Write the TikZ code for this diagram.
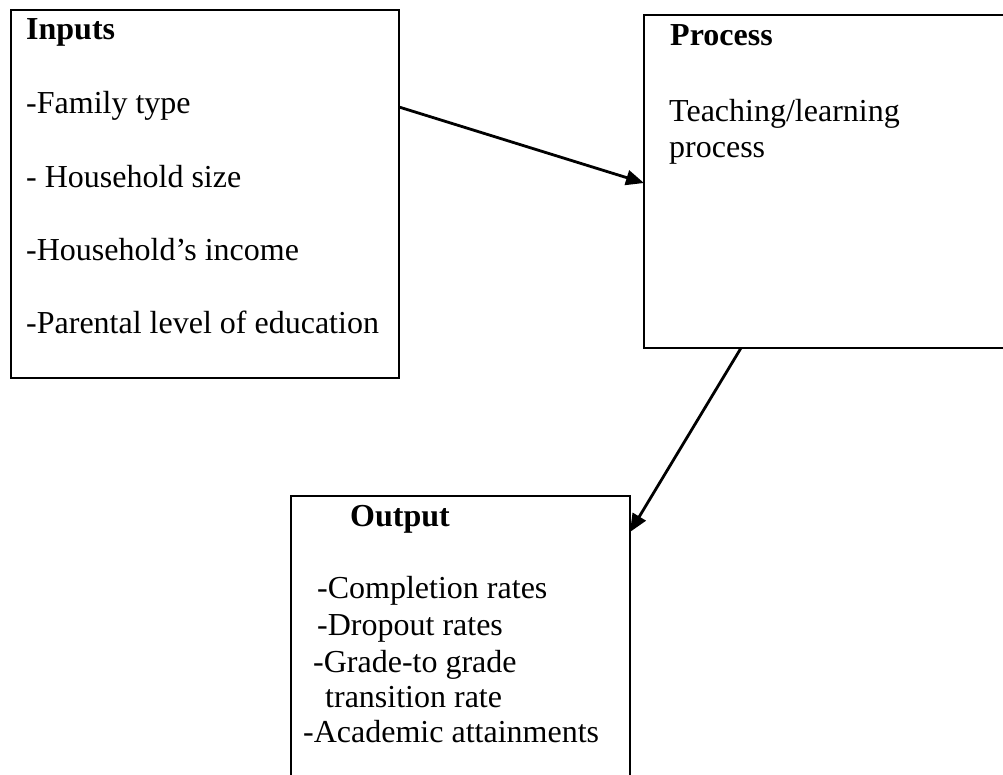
\documentclass[tikz,border=0pt]{standalone}
\usepackage{fontspec}
\setmainfont{Liberation Serif}
\usetikzlibrary{arrows.meta}
\begin{document}
\begin{tikzpicture}[x=1pt,y=-1pt,
  box/.style={draw=black,line width=2.7pt,inner sep=0pt,outer sep=0pt,rectangle},
  txt/.style={anchor=base west,inner sep=0pt,font=\fontsize{32}{38}\selectfont},
  head/.style={txt,font=\fontsize{32}{38}\selectfont\bfseries},
  conn/.style={line width=2.8pt,-{Triangle[length=18pt,width=15pt]}}]
\useasboundingbox (0,0) rectangle (1003,774);
% boxes
\node[box,minimum width=388pt,minimum height=368pt] (inputs) at (205,194) {};
\node[box,minimum width=366pt,minimum height=333pt] (process) at (827,181.5) {};
\node[box,minimum width=339pt,minimum height=300pt] (output) at (460.5,646) {};
% Inputs text
\node[head] (tin) at (26,39) {Inputs};
\node[txt] (t1) at (26,113) {-Family type};
\node[txt] (t2) at (26,187) {- Household size};
\node[txt] (t3) at (26,260) {-Household’s income};
\node[txt] (t4) at (26,333) {-Parental level of education};
% Process text
\node[head] (tpr) at (670,45) {Process};
\node[txt] (p1) at (669,121) {Teaching/learning};
\node[txt] (p2) at (669,157) {process};
% Output text
\node[head] (tout) at (350,526) {Output};
\node[txt] (o1) at (317,598) {-Completion rates};
\node[txt] (o2) at (317,635) {-Dropout rates};
\node[txt] (o3) at (313,672) {-Grade-to grade};
\node[txt] (o4) at (325,707) {transition rate};
\node[txt] (o5) at (303,742) {-Academic attainments};
% connectors
\coordinate (a1s) at ([yshift=-97pt]inputs.north east);
\coordinate (a1e) at ([yshift=-168pt]process.north west);
\coordinate (a2s) at ([xshift=97pt]process.south west);
\coordinate (a2e) at ([yshift=-36pt]output.north east);
\draw[conn] (a1s) -- (a1e);
\draw[conn] (a2s) -- (a2e);
\end{tikzpicture}
\end{document}
